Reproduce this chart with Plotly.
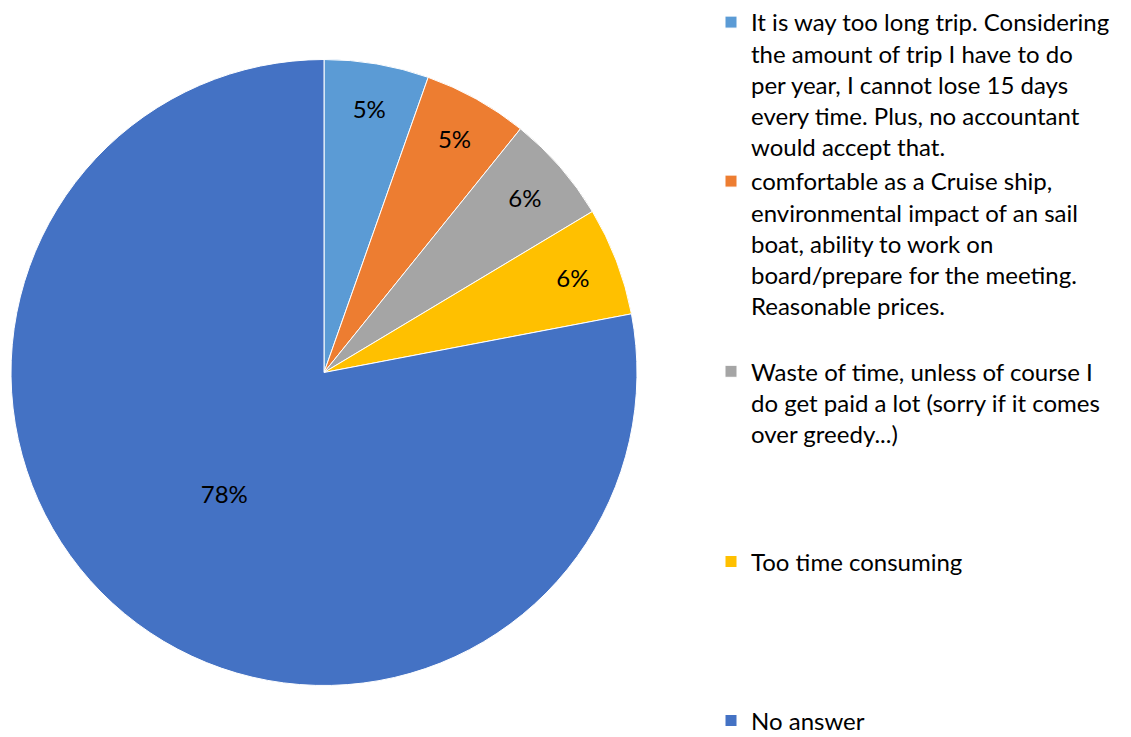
import plotly.graph_objects as go

labels = [
    "It is way too long trip. Considering<br>the amount of trip I have to do<br>per year, I cannot lose 15 days<br>every time. Plus, no accountant<br>would accept that.",
    "comfortable as a Cruise ship,<br>environmental impact of an sail<br>boat, ability to work on<br>board/prepare for the meeting.<br>Reasonable prices.",
    "Waste of time, unless of course I<br>do get paid a lot (sorry if it comes<br>over greedy...)",
    "Too time consuming",
    "No answer",
]
values = [5.4, 5.4, 5.6, 5.6, 78.0]
colors = ["#5B9BD5", "#ED7D31", "#A5A5A5", "#FFC000", "#4472C4"]
pad_lines = [0, 1, 3, 4, 0]

legend_labels = [lab + "<br>\u00a0" * p for lab, p in zip(labels, pad_lines)]

W, H = 1123, 729  # page body has an 8px margin, so the figure fits the window

fig = go.Figure(go.Pie(
    labels=legend_labels,
    values=values,
    sort=False,
    direction="clockwise",
    rotation=0,
    marker=dict(colors=colors, line=dict(color="white", width=1)),
    texttemplate="%{percent:.0%}",
    textposition="inside",
    insidetextorientation="horizontal",
    textfont=dict(family="Lato", size=24, color="black"),
    domain=dict(x=[3 / W, 629 / W], y=[0, 1]),
    hoverinfo="skip",
))

fig.update_layout(
    width=W, height=H,
    margin=dict(l=0, r=0, t=51, b=51, autoexpand=False),
    paper_bgcolor="white",
    plot_bgcolor="white",
    font=dict(family="Lato", size=24, color="black"),
    uniformtext=dict(minsize=24, mode="show"),
    legend=dict(
        x=703 / W, xanchor="left",
        y=686 / 627, yanchor="top", yref="paper",
        valign="top",
        maxheight=1200,
        font=dict(family="Lato", size=24, color="black"),
        itemclick=False, itemdoubleclick=False,
        tracegroupgap=0,
    ),
)

fig.write_html("out.html")
